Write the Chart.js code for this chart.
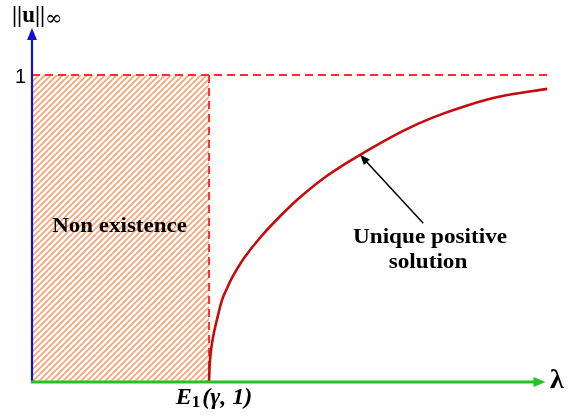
<!DOCTYPE html>
<html>
<head>
<meta charset="utf-8">
<script src="https://cdn.jsdelivr.net/npm/chart.js@4.4.1/dist/chart.umd.min.js"></script>
<style>
  html, body { margin: 0; padding: 0; background: #ffffff; }
  #wrap { width: 569px; height: 420px; position: relative; }
</style>
</head>
<body>
<div id="wrap"><canvas id="c" width="569" height="420"></canvas></div>
<script>
// Branch of positive solutions: sup-norm of u against lambda (lambda in units of E1)
const lambdaVals = [1.000, 1.003, 1.011, 1.023, 1.040, 1.073, 1.100, 1.130, 1.198, 1.288, 1.401, 1.514, 1.667, 1.853, 2.096, 2.266, 2.458, 2.644, 2.910];
const normVals   = [0.000, 0.050, 0.104, 0.147, 0.192, 0.267, 0.303, 0.340, 0.404, 0.470, 0.540, 0.602, 0.672, 0.740, 0.818, 0.862, 0.901, 0.930, 0.955];

// Threshold values
const threshold = 1;      // E1(gamma,1) on the lambda axis
const normBound = 1;      // ||u|| = 1
const xMax = 2.92;
const yMax = 1.15;

// Tick labels
const yTickLabels = ['1'];
const xTickLabel = { main: 'E', sub: '1', rest: '(γ, 1)' };

// Annotation texts
const regionLabel = 'Non existence';
const curveLabel = ['Unique positive', 'solution'];
const arrowTarget = { x: 1.853, y: 0.740 };
const arrowTail = { x: 2.21, y: 0.517 };

function hatchPattern() {
  const t = document.createElement('canvas');
  t.width = 6; t.height = 6;
  const g = t.getContext('2d');
  g.fillStyle = '#ffffff';
  g.fillRect(0, 0, 6, 6);
  g.strokeStyle = 'rgb(247,163,118)';
  g.lineWidth = 1.6;
  g.beginPath();
  g.moveTo(-1, 7); g.lineTo(7, -1);
  g.moveTo(-1, 1); g.lineTo(1, -1);
  g.moveTo(5, 7); g.lineTo(7, 5);
  g.stroke();
  return g.createPattern(t, 'repeat');
}

// wide bold serif text, stretched horizontally around its centre
function wideText(ctx, text, cx, baseline, size, stretch) {
  ctx.save();
  ctx.font = 'bold ' + size + 'px "Liberation Serif"';
  ctx.textAlign = 'center';
  ctx.translate(cx, baseline);
  ctx.scale(stretch, 1);
  ctx.fillText(text, 0, 0);
  ctx.restore();
}

const overlay = {
  id: 'overlay',
  afterDatasetsDraw(chart) {
    const ctx = chart.ctx;
    const xs = chart.scales.x, ys = chart.scales.y;
    const x0 = xs.getPixelForValue(0), y0 = ys.getPixelForValue(0);
    ctx.save();

    // y axis (blue) with arrow head
    const yTop = ys.getPixelForValue(yMax);
    ctx.strokeStyle = '#1010d0'; ctx.fillStyle = '#1010d0'; ctx.lineWidth = 2.2;
    ctx.beginPath(); ctx.moveTo(x0, y0 + 1); ctx.lineTo(x0, yTop + 10); ctx.stroke();
    ctx.beginPath(); ctx.moveTo(x0, yTop - 1); ctx.lineTo(x0 - 5, yTop + 11); ctx.lineTo(x0 + 5, yTop + 11); ctx.closePath(); ctx.fill();

    // x axis (green) with arrow head
    const xEnd = xs.getPixelForValue(2.90);
    ctx.strokeStyle = '#22c422'; ctx.fillStyle = '#22c422'; ctx.lineWidth = 3;
    ctx.beginPath(); ctx.moveTo(x0 - 1, y0); ctx.lineTo(xEnd - 10, y0); ctx.stroke();
    ctx.beginPath(); ctx.moveTo(xEnd, y0); ctx.lineTo(xEnd - 12, y0 - 5); ctx.lineTo(xEnd - 12, y0 + 5); ctx.closePath(); ctx.fill();

    // axis titles
    ctx.fillStyle = '#000000';
    ctx.textBaseline = 'alphabetic';
    ctx.font = 'bold 23px "Liberation Serif"';
    ctx.textAlign = 'left';
    ctx.fillText('||u||', 12, 22);
    const w = ctx.measureText('||u||').width;
    ctx.font = '21px "DejaVu Serif"';
    ctx.fillText('∞', 12 + w, 25);

    ctx.font = 'bold 28px "Liberation Serif"';
    ctx.fillText('λ', 550, 388);

    // y tick label
    ctx.font = '20px "Liberation Sans"';
    ctx.textAlign = 'right';
    ctx.fillText(yTickLabels[0], 26, ys.getPixelForValue(normBound) + 8);

    // x tick label E1(gamma,1)
    ctx.textAlign = 'left';
    const xc = xs.getPixelForValue(threshold);
    const big = 'bold italic 24px "Liberation Serif"', small = 'bold 17px "Liberation Serif"';
    ctx.font = big;
    const wE = ctx.measureText(xTickLabel.main).width;
    ctx.font = small;
    const wS = ctx.measureText(xTickLabel.sub).width;
    ctx.font = big;
    const wR = ctx.measureText(xTickLabel.rest).width;
    let px = xc - (wE + wS + 2 + wR) / 2 + 5;
    const base = 404;
    ctx.fillText(xTickLabel.main, px, base); px += wE;
    ctx.font = small;
    ctx.fillText(xTickLabel.sub, px, base + 3); px += wS + 2;
    ctx.font = big;
    ctx.fillText(xTickLabel.rest, px, base);

    // region and curve labels
    wideText(ctx, regionLabel, xs.getPixelForValue(0.5) - 1, 232, 20, 1.15);
    wideText(ctx, curveLabel[0], 430, 243, 20, 1.16);
    wideText(ctx, curveLabel[1], 428, 268, 20, 1.16);

    // pointer arrow to the curve
    const ax = xs.getPixelForValue(arrowTarget.x), ay = ys.getPixelForValue(arrowTarget.y);
    const bx = xs.getPixelForValue(arrowTail.x), by = ys.getPixelForValue(arrowTail.y);
    const ang = Math.atan2(ay - by, ax - bx);
    ctx.strokeStyle = '#000000'; ctx.fillStyle = '#000000'; ctx.lineWidth = 1.5;
    ctx.beginPath(); ctx.moveTo(bx, by); ctx.lineTo(ax - 6 * Math.cos(ang), ay - 6 * Math.sin(ang)); ctx.stroke();
    ctx.beginPath();
    ctx.moveTo(ax, ay);
    ctx.lineTo(ax - 10 * Math.cos(ang) + 4 * Math.sin(ang), ay - 10 * Math.sin(ang) - 4 * Math.cos(ang));
    ctx.lineTo(ax - 10 * Math.cos(ang) - 4 * Math.sin(ang), ay - 10 * Math.sin(ang) + 4 * Math.cos(ang));
    ctx.closePath(); ctx.fill();

    ctx.restore();
  }
};

const red = 'rgb(255,45,45)';
new Chart(document.getElementById('c'), {
  type: 'line',
  data: {
    datasets: [
      {
        // hatched non-existence region
        data: [{ x: 0, y: normBound }, { x: threshold, y: normBound }],
        borderWidth: 0, pointRadius: 0,
        fill: 'origin', backgroundColor: hatchPattern(),
        order: 4
      },
      {
        data: [{ x: 0, y: normBound }, { x: xMax, y: normBound }],
        borderColor: red, borderWidth: 2, borderDash: [8, 5], pointRadius: 0, fill: false,
        order: 3
      },
      {
        data: [{ x: threshold, y: 0 }, { x: threshold, y: normBound }],
        borderColor: red, borderWidth: 2, borderDash: [8, 5], pointRadius: 0, fill: false,
        order: 2
      },
      {
        data: lambdaVals.map((v, i) => ({ x: v, y: normVals[i] })),
        borderColor: 'rgb(196,12,12)', borderWidth: 2.6, pointRadius: 0, fill: false,
        tension: 0.35,
        order: 1
      }
    ]
  },
  options: {
    responsive: false,
    animation: false,
    events: [],
    layout: { padding: { left: 32, right: 20, top: 29, bottom: 38 } },
    plugins: { legend: { display: false }, tooltip: { enabled: false } },
    scales: {
      x: { type: 'linear', min: 0, max: xMax, display: false },
      y: { type: 'linear', min: 0, max: yMax, display: false }
    }
  },
  plugins: [overlay]
});
</script>
</body>
</html>
